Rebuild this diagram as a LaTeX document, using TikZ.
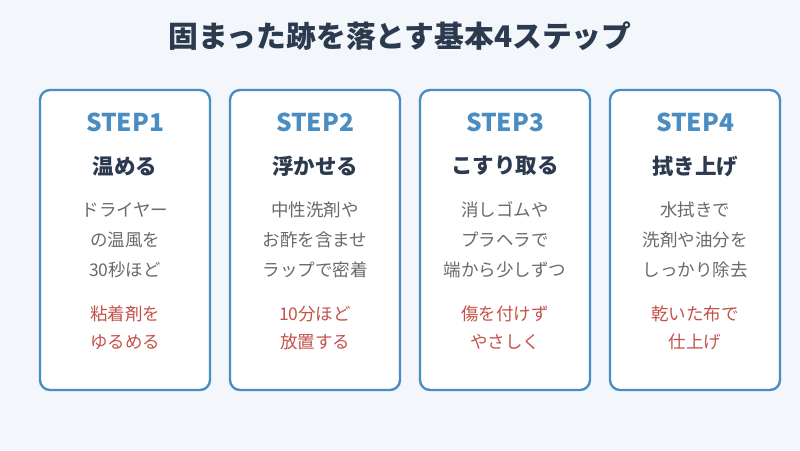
\documentclass[tikz,border=0pt]{standalone}
\usepackage{fontspec}
\setmainfont{Noto Sans CJK JP}
\begin{document}
\begin{tikzpicture}[x=1pt,y=-1pt,
  box/.style={draw=stepblue,line width=2.4pt,rounded corners=10pt,fill=white},
  steplbl/.style={font=\fontsize{24.5}{28}\selectfont\bfseries,text=stepblue},
  sub/.style={font=\fontsize{21.5}{25}\selectfont\bfseries,text=dark},
  body/.style={font=\fontsize{17.5}{30}\selectfont,text=graytxt,align=center},
  note/.style={font=\fontsize{17.5}{28}\selectfont,text=redtxt,align=center}]
\definecolor{bg}{HTML}{F3F6FA}
\definecolor{stepblue}{HTML}{4A8DC2}
\definecolor{dark}{HTML}{2B3A4E}
\definecolor{graytxt}{HTML}{6A6A6A}
\definecolor{redtxt}{HTML}{C5524A}
\fill[bg] (0,0) rectangle (800,450);
\useasboundingbox (0,0) rectangle (800,450);
\node[font=\fontsize{29.8}{34}\selectfont\bfseries,text=dark] (title) at (400,36) {固まった跡を落とす基本4ステップ};
\foreach \i/\x/\s/\b/\n in {
 1/40/温める/{ドライヤー\\の温風を\\30秒ほど}/{粘着剤を\\ゆるめる},
 2/230/浮かせる/{中性洗剤や\\お酢を含ませ\\ラップで密着}/{10分ほど\\放置する},
 3/420/こすり取る/{消しゴムや\\プラヘラで\\端から少しずつ}/{傷を付けず\\やさしく},
 4/610/拭き上げ/{水拭きで\\洗剤や油分を\\しっかり除去}/{乾いた布で\\仕上げ}}{
  \draw[box] (\x,90) rectangle ++(170,300);
  \node[steplbl] (s\i) at (\x+85,122) {STEP\i};
  \node[sub] (t\i) at (\x+85,166) {\s};
  \node[body] (b\i) at (\x+85,240) {\b};
  \node[note] (n\i) at (\x+85,328) {\n};
}
\end{tikzpicture}
\end{document}
